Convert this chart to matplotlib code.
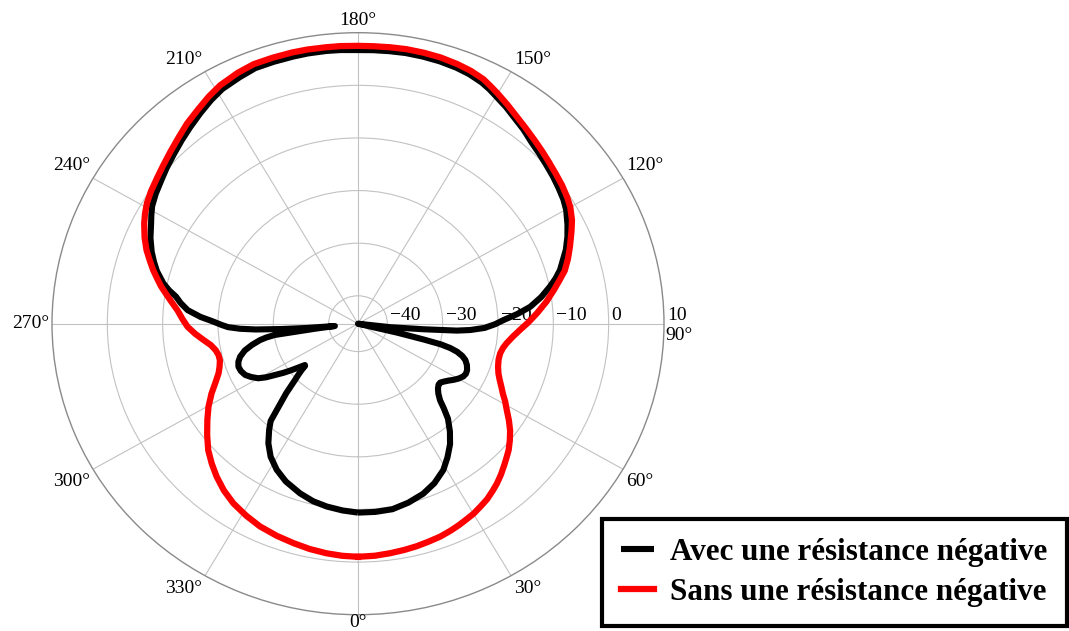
import matplotlib
matplotlib.use("Agg")
import matplotlib.pyplot as plt
import numpy as np

# gain pattern in dB, angles in degrees (0 at the bottom, counter-clockwise)
SANS_THETA = [0, 4, 7.6, 11, 14, 17, 20.2, 23, 25.5, 28, 30.1, 32.5, 35, 37.5, 39.6, 42,
              44.5, 46.5, 48.6, 51, 53.5, 56, 58.6, 61, 63, 65.3, 67.5, 69.5, 72.1, 75,
              77.6, 80, 82.1, 85, 87.7, 90.5, 93.5, 97, 100.3, 102.7, 105.1, 108, 110.9,
              114.5, 117, 120, 122.5, 125.5, 128.5, 131.7, 134.5, 137.7, 141, 143.9, 147,
              150, 152, 154, 157, 160, 163.5, 167, 170.5, 173.7, 177, 180,
              183.5, 186.3, 190, 193, 197, 200.9, 204.5, 208.8, 212, 215.5, 219.1, 222.5,
              226, 229.5, 232.5, 236, 239, 241.5, 243.7, 247, 249.9, 252.3, 254.6, 256.7,
              258.7, 261, 263.3, 265.6, 268.5, 271.1, 273.7, 276.3, 278.7, 281.1, 283.3,
              285.5, 288, 290.5, 293.5, 296.6, 300.3, 303.9, 307.8, 311.6, 315.2, 318.7,
              322.6, 326.6, 331, 335.3, 340, 344.4, 348.5, 352.6, 356.3, 360]
SANS_DB = [-1.0, -1.1, -1.3, -1.5, -1.7, -1.95, -2.2, -2.55, -2.9, -3.3, -3.6, -4.1, -4.6,
           -5.3, -5.9, -6.7, -7.6, -8.3, -9.0, -10.0, -11.1, -12.4, -13.8, -14.9, -15.9,
           -16.8, -17.6, -18.2, -18.7, -19.0, -19.0, -18.7, -18.2, -17.2, -16.0, -14.5,
           -12.9, -11.0, -9.3, -8.0, -6.6, -5.4, -4.3, -2.9, -1.9, -1.0, -0.5, 0.0, 0.4,
           0.9, 1.4, 2.0, 2.7, 3.4, 4.3, 5.2, 5.8, 6.4, 6.9, 7.2, 7.45, 7.55, 7.6, 7.55,
           7.5, 7.5,
           7.55, 7.55, 7.6, 7.6, 7.55, 7.5, 7.1, 6.4, 5.6, 4.6, 3.7, 2.7, 1.8, 1.0, 0.4,
           -0.2, -0.8, -1.5, -2.2, -3.4, -4.6, -5.8, -6.9, -8.0, -9.0, -10.3, -11.5,
           -12.6, -13.6, -14.5, -15.8, -17.2, -18.4, -19.1, -19.4, -19.4, -19.0, -18.4,
           -17.2, -15.7, -14.0, -12.5, -10.8, -9.1, -7.8, -6.6, -5.4, -4.4, -3.6, -2.9,
           -2.4, -2.0, -1.6, -1.3, -1.1, -1.0]

AVEC_THETA = [0, 5, 10, 15, 20, 24.5, 29, 32.5, 36, 39, 42, 44, 45.5, 47.5, 49.5, 51.5, 53,
              54.6, 56.5, 58.3, 60.3, 62.2, 64, 65.9, 68.2, 70.4, 72, 73.4, 74.5, 75.3, 75.8,
              76.5, 79, 83.5, 84.9, 85.8, 86.6, 88, 89.8, 91.5, 93.7, 95.9, 98.7, 101.5,
              103.5, 105.6, 108, 110.5, 113.6, 116.5, 119.9, 122.5, 125.5, 128.5, 131.7,
              134.5, 137.7, 141, 143.9, 147, 150, 152, 154, 157, 160, 163.5, 167, 170.5,
              173.7, 177, 180,
              183.5, 186.3, 190, 193, 197, 200.9, 204.5, 208.8, 212, 215.5, 219.1, 222.5,
              226, 229.5, 232.5, 236, 239, 241, 242.9, 246.5, 249.9, 252.3, 254.6, 257.7,
              259.5, 261.1, 263, 265.2, 267.4, 269, 270.5, 271.6, 272.6, 273.4, 274.2, 275,
              276, 277, 277.6, 278.1, 279, 280, 281.9, 284, 286.4, 288.5, 290.7, 293, 295.5,
              297.7, 299.9, 301.5, 303, 304.7, 306.3, 308, 309.3, 310, 310.9, 312, 313.2,
              315.5, 317.5, 319.5, 321.5, 324.5, 328, 332.1, 336.5, 342, 346.5, 350.8,
              355.5, 360]
AVEC_DB = [-9.4, -9.4, -9.5, -10.1, -10.9, -12.0, -13.5, -15.2, -17.0, -18.9, -21.0, -23.0,
           -24.5, -25.6, -26.3, -26.7, -26.7, -26.3, -25.7, -25.0, -24.3, -23.8, -23.6,
           -23.7, -24.1, -24.7, -25.5, -26.6, -28.0, -29.8, -33.0, -38.0, -45.3, -39.4,
           -33.4, -27.4, -25.0, -22.4, -20.5, -19.0, -16.4, -14.0, -11.8, -9.9, -8.6, -7.4,
           -6.4, -5.2, -4.0, -3.0, -1.9, -1.3, -0.8, -0.3, 0.2, 0.7, 1.3, 2.2, 2.9, 3.8,
           4.6, 5.2, 5.7, 6.2, 6.5, 6.7, 6.8, 6.85, 6.8, 6.75, 6.7,
           6.8, 6.85, 6.85, 6.8, 6.75, 6.7, 6.2, 5.6, 4.8, 3.8, 2.8, 1.9, 1.0, 0.2, -0.5,
           -1.2, -1.9, -2.6, -3.3, -4.4, -5.6, -6.6, -7.6, -9.3, -10.6, -12.0, -13.0,
           -14.4, -16.8, -19.0, -20.6, -21.8, -24.0, -26.8, -31.5, -36.0, -41.1, -37.5,
           -34.5, -30.1, -28.5, -27.3, -25.7, -24.2, -23.1, -22.5, -22.2, -22.3, -22.7,
           -23.5, -24.5, -25.8, -27.4, -28.9, -30.4, -31.9, -32.9, -32.8, -31.8, -30.8,
           -29.7, -26.8, -24.3, -21.0, -19.5, -17.4, -15.5, -13.9, -12.6, -11.4, -10.6,
           -10.1, -9.7, -9.4]

RING_LEVELS = [-40, -30, -20, -10, 0, 10]
ANGLE_TICKS = list(range(0, 360, 30))
LEGEND_LABELS = ["Avec une résistance négative", "Sans une résistance négative"]

R_MIN = -45.3
R_MAX = 10

W, H = 1069, 631
SERIF = "Liberation Serif"


def fmt_level(v):
    return f"{v}".replace("-", "\u2212")


def angle_label_align(deg):
    # put each angle label just outside the rim, pushed away from the circle
    rad = np.deg2rad(deg)
    sx, sy = np.sin(rad), -np.cos(rad)
    ha = "left" if sx > 0.1 else ("right" if sx < -0.1 else "center")
    va = "bottom" if sy > 0.1 else ("top" if sy < -0.1 else "center")
    dx = 3 * np.sign(sx) if abs(sx) > 0.1 else 0
    dy = 4 * np.sign(sy) if abs(sy) > 0.1 else 0
    if deg == 90:
        # sits under the "10" ring label
        va, dx, dy = "top", 1, -3
    if deg == 0:
        # keep it inside the bottom edge of the figure
        va, dy = "bottom", -16
    return ha, va, dx, dy


def main():
    fig = plt.figure(figsize=(W / 100, H / 100), dpi=100)
    ax = fig.add_axes([52 / W, 16.3 / H, 612 / W, 582 / H], projection="polar")
    ax.set_aspect("auto")
    ax.set_theta_zero_location("S")
    ax.set_theta_direction(1)
    ax.set_rlim(R_MIN, R_MAX)

    ax.set_thetagrids(ANGLE_TICKS, labels=[""] * len(ANGLE_TICKS))
    ax.set_rgrids(RING_LEVELS[:-1], labels=[""] * (len(RING_LEVELS) - 1))
    ax.tick_params(axis="both", length=0)
    ax.grid(True, color="#c2c2c2", linewidth=0.8)
    ax.spines["polar"].set_color("#8a8a8a")
    ax.spines["polar"].set_linewidth(1.0)

    for level in RING_LEVELS:
        ax.annotate(fmt_level(level), xy=(np.deg2rad(90), level), xytext=(3, 4),
                    textcoords="offset pixels", ha="left", va="baseline",
                    fontsize=14, family=SERIF, zorder=3, annotation_clip=False)

    for deg in ANGLE_TICKS:
        ha, va, dx, dy = angle_label_align(deg)
        ax.annotate(f"{deg}°", xy=(np.deg2rad(deg), R_MAX), xytext=(dx, dy),
                    textcoords="offset pixels", ha=ha, va=va, fontsize=14,
                    family=SERIF, annotation_clip=False)

    avec, = ax.plot(np.deg2rad(AVEC_THETA), AVEC_DB, color="black", linewidth=4.4,
                    solid_joinstyle="round", solid_capstyle="butt", zorder=4)
    sans, = ax.plot(np.deg2rad(SANS_THETA), SANS_DB, color="#ff0000", linewidth=4.5,
                    solid_joinstyle="round", zorder=5)

    leg = fig.legend(handles=[avec, sans], labels=LEGEND_LABELS, loc="lower right",
                     bbox_to_anchor=(1067 / W, 5 / H), borderaxespad=0,
                     prop={"family": SERIF, "weight": "bold", "size": 22.4},
                     frameon=True, fancybox=False, framealpha=1, edgecolor="black",
                     handlelength=1.06, handletextpad=0.52, borderpad=0.62,
                     labelspacing=0.34)
    leg.get_frame().set_linewidth(3)

    fig.savefig("out.png", dpi=100)
    plt.close(fig)


if __name__ == "__main__":
    main()
